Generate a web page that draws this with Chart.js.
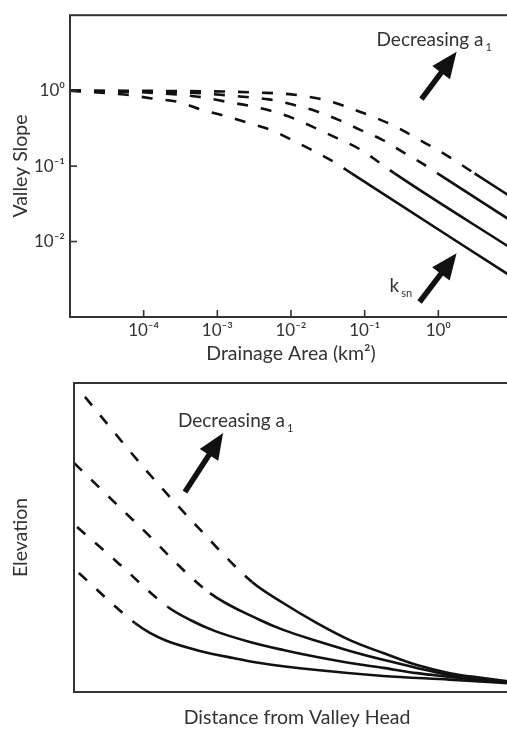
<!DOCTYPE html>
<html>
<head>
<meta charset="utf-8">
<script src="https://cdn.jsdelivr.net/npm/chart.js@4.4.1/dist/chart.umd.min.js"></script>
<style>
  html, body { margin: 0; padding: 0; background: #fff; overflow: hidden; }
  #wrap { position: relative; width: 507px; height: 731px; overflow: hidden; }
  #topChart { position: absolute; left: 0; top: 0; }
  #bottomChart { position: absolute; left: 0; top: 365px; }
</style>
</head>
<body>
<div id="wrap">
  <canvas id="topChart" width="514" height="365"></canvas>
  <canvas id="bottomChart" width="522" height="366"></canvas>
</div>
<script>
// ---- top panel: valley slope vs drainage area (log-log) ----
const areaTicks = [1e-4, 1e-3, 1e-2, 1e-1, 1];
const areaTickLabels = ['10⁻⁴', '10⁻³', '10⁻²', '10⁻¹', '10⁰'];
const slopeTicks = [1, 0.1, 0.01];
const slopeTickLabels = ['10⁰', '10⁻¹', '10⁻²'];

// four curves, dashed until the second-to-last point, then solid
const areaA  = [1e-5, 5.5e-5, 1.3e-4, 3.1e-4, 5.8e-4, 1.14e-3, 2.9e-3, 5.6e-3, 0.0112, 0.0216, 0.0416, 0.0664, 10];
const slopeA = [1, 0.887, 0.789, 0.70, 0.569, 0.475, 0.364, 0.296, 0.213, 0.154, 0.108, 0.080, 0.0034];
const areaB  = [1e-5, 1.2e-4, 5.1e-4, 1.47e-3, 2.9e-3, 5.5e-3, 0.0112, 0.0222, 0.0429, 0.0853, 0.159, 0.255, 10];
const slopeB = [1, 0.94, 0.838, 0.70, 0.622, 0.536, 0.423, 0.314, 0.233, 0.168, 0.111, 0.080, 0.0080];
const areaC  = [1e-5, 4.2e-4, 2.0e-3, 5.0e-3, 0.0102, 0.0216, 0.0443, 0.0853, 0.169, 0.327, 0.611, 0.975, 10];
const slopeC = [1, 0.94, 0.838, 0.766, 0.659, 0.536, 0.41, 0.305, 0.226, 0.154, 0.108, 0.080, 0.0185];
const areaD  = [1e-5, 1.47e-3, 3.6e-3, 7.7e-3, 0.0163, 0.0344, 0.0686, 0.141, 0.279, 0.538, 1.04, 1.94, 3.10, 10];
const slopeD = [1, 0.97, 0.94, 0.914, 0.838, 0.721, 0.569, 0.436, 0.324, 0.226, 0.158, 0.108, 0.080, 0.0383];

// ---- bottom panel: elevation vs distance (arbitrary units) ----
const dist1 = [2.5, 16.6, 28.0, 40.6, 47.7, 55.4, 62.9, 70.5, 78.2, 85.7, 93.3, 101.7];
const elev1 = [95.5, 71.5, 53.7, 35.6, 28.8, 22.3, 16.8, 12.6, 8.7, 6.1, 4.5, 2.9];
const dist2 = [0, 15.1, 31.0, 42.4, 47.7, 55.4, 62.9, 70.5, 78.2, 85.7, 93.3, 101.7];
const elev2 = [74.1, 53.4, 32.0, 23.3, 20.1, 16.5, 13.3, 10.4, 7.8, 5.5, 4.0, 2.8];
const dist3 = [0.7, 9.8, 21.4, 26.5, 32.2, 40.1, 47.7, 55.4, 62.9, 70.5, 78.2, 85.7, 93.3, 101.7];
const elev3 = [53.4, 42.1, 27.5, 23.3, 19.7, 16.2, 13.6, 11.3, 9.4, 7.8, 6.1, 4.9, 3.7, 2.7];
const dist4 = [1.1, 13.9, 17.3, 21.2, 28.7, 36.3, 42.4, 55.4, 70.5, 85.7, 101.7];
const elev4 = [38.5, 22.3, 19.1, 16.5, 13.3, 11.0, 9.4, 7.1, 5.2, 4.0, 2.6];
const solidFromBottom = [3, 2, 2, 1];

const FONT = "Lato, 'DejaVu Sans', sans-serif";
const INK = '#111';
const TEXT = '#333';
Chart.defaults.font.family = FONT;
Chart.defaults.color = TEXT;

function curve(xs, ys, solidFrom) {
  return {
    data: xs.map((x, i) => ({ x: x, y: ys[i] })),
    borderColor: INK,
    borderWidth: 2.6,
    borderCapStyle: 'butt',
    pointRadius: 0,
    fill: false,
    cubicInterpolationMode: 'monotone',
    segment: {
      borderDash: ctx => ctx.p0DataIndex < solidFrom ? [11, 13] : []
    }
  };
}

function drawArrow(ctx, x0, y0, x1, y1) {
  const ang = Math.atan2(y1 - y0, x1 - x0);
  const headLen = 26, headW = 11;
  const bx = x1 - headLen * Math.cos(ang), by = y1 - headLen * Math.sin(ang);
  ctx.save();
  ctx.strokeStyle = INK;
  ctx.fillStyle = INK;
  ctx.lineWidth = 5.5;
  ctx.beginPath(); ctx.moveTo(x0, y0); ctx.lineTo(bx + 2 * Math.cos(ang), by + 2 * Math.sin(ang)); ctx.stroke();
  ctx.beginPath();
  ctx.moveTo(x1, y1);
  ctx.lineTo(bx + headW * Math.sin(ang), by - headW * Math.cos(ang));
  ctx.lineTo(bx - headW * Math.sin(ang), by + headW * Math.cos(ang));
  ctx.closePath();
  ctx.fill();
  ctx.restore();
}

function drawSubText(ctx, x, y, main, sub, size) {
  ctx.save();
  ctx.fillStyle = TEXT;
  ctx.textBaseline = 'alphabetic';
  ctx.textAlign = 'left';
  ctx.font = size + 'px ' + FONT;
  ctx.fillText(main, x, y);
  const w = ctx.measureText(main).width;
  ctx.font = Math.round(size * 0.6) + 'px ' + FONT;
  ctx.fillText(sub, x + w + 2, y + size * 0.25);
  ctx.restore();
}

function drawFrame(chart) {
  const { ctx, chartArea: a } = chart;
  ctx.save();
  ctx.strokeStyle = '#333';
  ctx.lineWidth = 2;
  ctx.strokeRect(a.left, a.top, a.right - a.left, a.bottom - a.top);
  ctx.restore();
}

const topDecor = {
  id: 'topDecor',
  afterDraw(chart) {
    const { ctx, chartArea: a, scales: { x, y } } = chart;
    drawFrame(chart);
    // inward tick marks
    ctx.save();
    ctx.strokeStyle = '#333';
    ctx.lineWidth = 1.6;
    areaTicks.forEach(v => {
      const px = x.getPixelForValue(v);
      ctx.beginPath(); ctx.moveTo(px, a.bottom); ctx.lineTo(px, a.bottom - 7); ctx.stroke();
    });
    slopeTicks.forEach(v => {
      const py = y.getPixelForValue(v);
      ctx.beginPath(); ctx.moveTo(a.left, py); ctx.lineTo(a.left + 7, py); ctx.stroke();
    });
    ctx.restore();
    // annotations
    drawSubText(ctx, x.getPixelForValue(0.145), y.getPixelForValue(3.9), 'Decreasing a', '1', 19);
    drawArrow(ctx, x.getPixelForValue(0.59), y.getPixelForValue(0.77), x.getPixelForValue(1.77), y.getPixelForValue(3.28));
    drawSubText(ctx, x.getPixelForValue(0.218), y.getPixelForValue(0.00213), 'k', 'sn', 19);
    drawArrow(ctx, x.getPixelForValue(0.556), y.getPixelForValue(0.00158), x.getPixelForValue(1.77), y.getPixelForValue(0.0070));
  }
};

const bottomDecor = {
  id: 'bottomDecor',
  afterDraw(chart) {
    const { ctx, scales: { x, y } } = chart;
    drawFrame(chart);
    drawSubText(ctx, x.getPixelForValue(23.7), y.getPixelForValue(85.8), 'Decreasing a', '1', 19);
    drawArrow(ctx, x.getPixelForValue(25.3), y.getPixelForValue(64.7), x.getPixelForValue(34.0), y.getPixelForValue(83.8));
  }
};

new Chart(document.getElementById('topChart'), {
  type: 'line',
  data: {
    datasets: [
      curve(areaA, slopeA, areaA.length - 2),
      curve(areaB, slopeB, areaB.length - 2),
      curve(areaC, slopeC, areaC.length - 2),
      curve(areaD, slopeD, areaD.length - 2)
    ]
  },
  options: {
    responsive: false,
    animation: false,
    layout: { padding: { top: 5, right: 2, bottom: 0, left: 0 } },
    plugins: { legend: { display: false }, tooltip: { enabled: false } },
    scales: {
      x: {
        type: 'logarithmic',
        min: 1e-5,
        max: 10,
        grid: { display: false, drawTicks: false },
        border: { display: false },
        afterBuildTicks: s => { s.ticks = areaTicks.map(v => ({ value: v })); },
        afterFit: s => { s.height = 48; },
        ticks: {
          autoSkip: false,
          maxRotation: 0,
          padding: 3,
          color: TEXT,
          font: { size: 17 },
          callback: (v, i) => areaTickLabels[i]
        },
        title: {
          display: true,
          text: 'Drainage Area (km²)',
          color: TEXT,
          font: { size: 19.5 },
          padding: { top: 0, bottom: 0 }
        }
      },
      y: {
        type: 'logarithmic',
        min: 1e-3,
        max: 10,
        grid: { display: false, drawTicks: false },
        border: { display: false },
        afterBuildTicks: s => { s.ticks = slopeTicks.map(v => ({ value: v })); },
        afterFit: s => { s.width = 70; },
        ticks: {
          autoSkip: false,
          padding: 5,
          color: TEXT,
          font: { size: 17 },
          callback: (v, i) => slopeTickLabels[i]
        },
        title: {
          display: true,
          text: 'Valley Slope',
          color: TEXT,
          font: { size: 19.5 },
          padding: { top: 9, bottom: 0 }
        }
      }
    }
  },
  plugins: [topDecor]
});

new Chart(document.getElementById('bottomChart'), {
  type: 'line',
  data: {
    datasets: [
      curve(dist1, elev1, solidFromBottom[0]),
      curve(dist2, elev2, solidFromBottom[1]),
      curve(dist3, elev3, solidFromBottom[2]),
      curve(dist4, elev4, solidFromBottom[3])
    ]
  },
  options: {
    responsive: false,
    animation: false,
    layout: { padding: { top: 18, right: 2, bottom: 0, left: 0 } },
    plugins: { legend: { display: false }, tooltip: { enabled: false } },
    scales: {
      x: {
        type: 'linear',
        min: 0,
        max: 101.7,
        grid: { display: false, drawTicks: false },
        border: { display: false },
        ticks: { display: false },
        afterFit: s => { s.height = 39; },
        title: {
          display: true,
          text: 'Distance from Valley Head',
          color: TEXT,
          font: { size: 19.5 },
          padding: { top: 0, bottom: 2 }
        }
      },
      y: {
        type: 'linear',
        min: 0,
        max: 100,
        grid: { display: false, drawTicks: false },
        border: { display: false },
        ticks: { display: false },
        afterFit: s => { s.width = 74; },
        title: {
          display: true,
          text: 'Elevation',
          color: TEXT,
          font: { size: 19.5 },
          padding: { top: 9, bottom: 0 }
        }
      }
    }
  },
  plugins: [bottomDecor]
});
</script>
</body>
</html>
